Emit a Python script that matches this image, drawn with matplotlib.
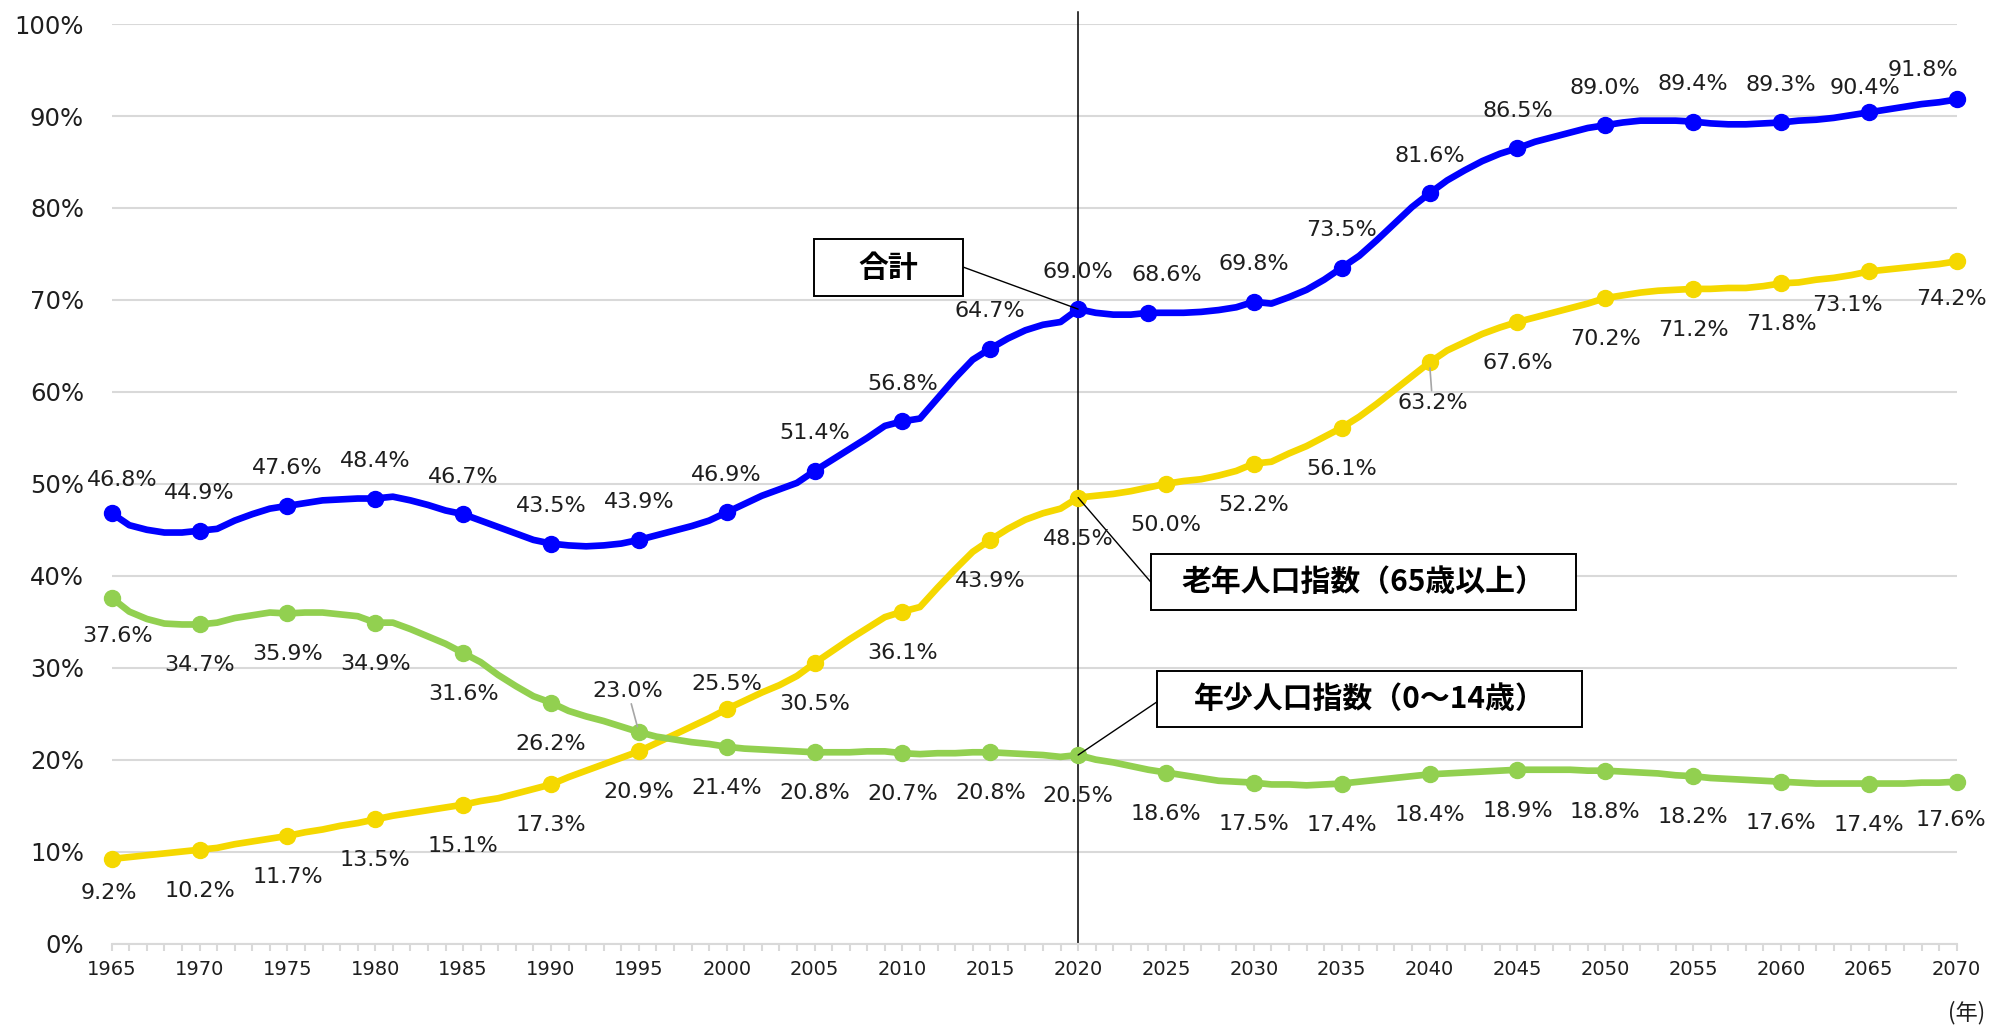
import numpy as np
import matplotlib.pyplot as plt
from matplotlib.patches import Rectangle

plt.rcParams['font.family'] = ['DejaVu Sans', 'Noto Sans CJK JP']

years = np.arange(1965, 2071)

# 合計 (old-age + young dependency), yearly
total = [46.8, 45.5, 45.0, 44.7, 44.7, 44.9, 45.1, 46.0, 46.7, 47.3,
         47.6, 47.9, 48.2, 48.3, 48.4, 48.4, 48.6, 48.2, 47.7, 47.1,
         46.7, 46.0, 45.3, 44.6, 43.9, 43.5, 43.3, 43.2, 43.3, 43.5,
         43.9, 44.4, 44.9, 45.4, 46.0, 46.9, 47.8, 48.7, 49.4, 50.1,
         51.4, 52.6, 53.8, 55.0, 56.3, 56.8, 57.1, 59.3, 61.5, 63.5,
         64.7, 65.8, 66.7, 67.3, 67.6, 69.0, 68.6, 68.4, 68.4, 68.6,
         68.6, 68.6, 68.7, 68.9, 69.2, 69.8, 69.6, 70.3, 71.1, 72.2,
         73.5, 74.8, 76.5, 78.3, 80.1, 81.6, 83.0, 84.1, 85.1, 85.9,
         86.5, 87.2, 87.7, 88.2, 88.7, 89.0, 89.3, 89.5, 89.5, 89.5,
         89.4, 89.2, 89.1, 89.1, 89.2, 89.3, 89.5, 89.6, 89.8, 90.1,
         90.4, 90.7, 91.0, 91.3, 91.5, 91.8]

# 老年人口指数（65歳以上）
old_age = [9.2, 9.4, 9.6, 9.8, 10.0, 10.2, 10.4, 10.8, 11.1, 11.4,
           11.7, 12.1, 12.4, 12.8, 13.1, 13.5, 13.9, 14.2, 14.5, 14.8,
           15.1, 15.5, 15.8, 16.3, 16.8, 17.3, 18.1, 18.8, 19.5, 20.2,
           20.9, 21.8, 22.7, 23.6, 24.5, 25.5, 26.4, 27.3, 28.1, 29.1,
           30.5, 31.8, 33.1, 34.3, 35.5, 36.1, 36.6, 38.7, 40.7, 42.6,
           43.9, 45.1, 46.1, 46.8, 47.3, 48.5, 48.7, 48.9, 49.2, 49.6,
           50.0, 50.3, 50.5, 50.9, 51.4, 52.2, 52.4, 53.3, 54.1, 55.1,
           56.1, 57.3, 58.7, 60.2, 61.7, 63.2, 64.5, 65.4, 66.3, 67.0,
           67.6, 68.1, 68.6, 69.1, 69.6, 70.2, 70.5, 70.8, 71.0, 71.1,
           71.2, 71.2, 71.3, 71.3, 71.5, 71.8, 71.9, 72.2, 72.4, 72.7,
           73.1, 73.3, 73.5, 73.7, 73.9, 74.2]

# 年少人口指数（0～14歳）
young = [37.6, 36.1, 35.3, 34.8, 34.7, 34.7, 34.9, 35.4, 35.7, 36.0,
         35.9, 36.0, 36.0, 35.8, 35.6, 34.9, 34.9, 34.2, 33.4, 32.6,
         31.6, 30.6, 29.2, 28.0, 26.9, 26.2, 25.3, 24.7, 24.2, 23.6,
         23.0, 22.5, 22.2, 21.9, 21.7, 21.4, 21.2, 21.1, 21.0, 20.9,
         20.8, 20.8, 20.8, 20.9, 20.9, 20.7, 20.6, 20.7, 20.7, 20.8,
         20.8, 20.7, 20.6, 20.5, 20.3, 20.5, 20.0, 19.7, 19.3, 18.9,
         18.6, 18.3, 18.0, 17.7, 17.6, 17.5, 17.3, 17.3, 17.2, 17.3,
         17.4, 17.6, 17.8, 18.0, 18.2, 18.4, 18.5, 18.6, 18.7, 18.8,
         18.9, 18.9, 18.9, 18.9, 18.8, 18.8, 18.7, 18.6, 18.5, 18.3,
         18.2, 18.0, 17.9, 17.8, 17.7, 17.6, 17.5, 17.4, 17.4, 17.4,
         17.4, 17.4, 17.4, 17.5, 17.5, 17.6]

mark_years = list(range(1965, 2071, 5))
# the 合計 series puts its marker for the 2025 value at 2024
total_mark_years = [y if y != 2025 else 2024 for y in mark_years]

BLUE = '#0000FF'
YELLOW = '#F5D800'
GREEN = '#92D050'
GRID = '#D9D9D9'
TXT = '#1E1E1E'

# label offsets in pixels (dx, dy), default above for 合計, below for the others
default_dy = {'total': 37.5, 'old': -41, 'young': -41}
label_shift = {
    ('total', 1965): (11, 33),
    ('total', 2024): (18, 37.5),
    ('total', 2065): (-4, 24),
    ('total', 2070): (-34, 29),
    ('old', 1965): (-3, -34),
    ('old', 2000): (0, 25),
    ('old', 2040): (3, -41),
    ('old', 2065): (-21, -34),
    ('old', 2070): (-5, -38),
    ('young', 1965): (6, -38),
    ('young', 1995): (-11, 41),
    ('young', 2070): (-6, -38),
}
leaders = [('old', 2040), ('young', 1995)]


def draw_series(ax, key, values, marks, color):
    values = np.asarray(values)
    ax.plot(years, values, color=color, lw=4.8, solid_joinstyle='round',
            solid_capstyle='round', zorder=3, clip_on=False)
    mvals = [values[years == y][0] for y in marks]
    ax.plot(marks, mvals, 'o', color=color, ms=11.5, zorder=4, clip_on=False)
    for y, v in zip(marks, mvals):
        dx, dy = label_shift.get((key, y), (0, default_dy[key]))
        arrow = None
        if (key, y) in leaders:
            arrow = dict(arrowstyle='-', color='#A6A6A6', lw=1.2,
                         shrinkA=0, shrinkB=4)
        ax.annotate(f'{v:.1f}%', xy=(y, v), xytext=(dx, dy),
                    textcoords='offset pixels', ha='center', va='center',
                    fontsize=16, color=TXT, arrowprops=arrow, zorder=6)
    return dict(zip(marks, mvals))


fig = plt.figure(figsize=(19.91, 10.25), dpi=100)
ax = fig.add_axes([0.0561, 0.0795, 0.92667, 0.89698])

ax.set_xlim(1965, 2070)
ax.set_ylim(0, 100)

ax.set_yticks(range(0, 101, 10))
ax.set_yticklabels([f'{t}%' for t in range(0, 101, 10)], fontsize=17.5, color=TXT)
ax.set_xticks(mark_years)
ax.set_xticklabels([str(y) for y in mark_years], fontsize=14, color=TXT)
ax.set_xticks(years, minor=True)

ax.yaxis.grid(True, color=GRID, lw=1.5)
ax.set_axisbelow(True)
for side in ['top', 'right', 'left']:
    ax.spines[side].set_visible(False)
ax.spines['bottom'].set_color(GRID)
ax.spines['bottom'].set_linewidth(1.5)
ax.tick_params(axis='y', length=0, pad=20)
ax.tick_params(axis='x', which='both', length=5, width=1.5, color=GRID, pad=7)

ax.axvline(2020, ymin=0, ymax=1.013, color='black', lw=1.1, zorder=2, clip_on=False)

tot_m = draw_series(ax, 'total', total, total_mark_years, BLUE)
old_m = draw_series(ax, 'old', old_age, mark_years, YELLOW)
young_m = draw_series(ax, 'young', young, mark_years, GREEN)

# callout boxes: (x0, x1, y0, y1) in data units, text, line end on the box
boxes = [
    ((2004.99, 2013.42, 70.4, 76.6), '合計', (2013.42, 73.6), tot_m[2020]),
    ((2024.12, 2048.34, 36.27, 42.33), '老年人口指数（65歳以上）', (2024.12, 39.35), old_m[2020]),
    ((2024.5, 2048.7, 23.5, 29.67), '年少人口指数（0～14歳）', (2024.5, 26.3), young_m[2020]),
]
for (x0, x1, y0, y1), label, edge, target in boxes:
    ax.add_patch(Rectangle((x0, y0), x1 - x0, y1 - y0, facecolor='white',
                           edgecolor='black', lw=1.4, zorder=7))
    ax.text((x0 + x1) / 2, (y0 + y1) / 2, label, ha='center', va='center',
            fontsize=21.5, fontweight='bold', family=['Noto Sans CJK JP'],
            color='black', zorder=8)
    ax.annotate('', xy=(2020, target), xytext=edge,
                arrowprops=dict(arrowstyle='-', color='black', lw=1.0,
                                shrinkA=0, shrinkB=0), zorder=5)

fig.text(0.9875, 0.0117, '(年)', ha='center', va='center', fontsize=16,
         color=TXT, family=['Noto Sans CJK JP'])

fig.savefig('out.png', dpi=100)
